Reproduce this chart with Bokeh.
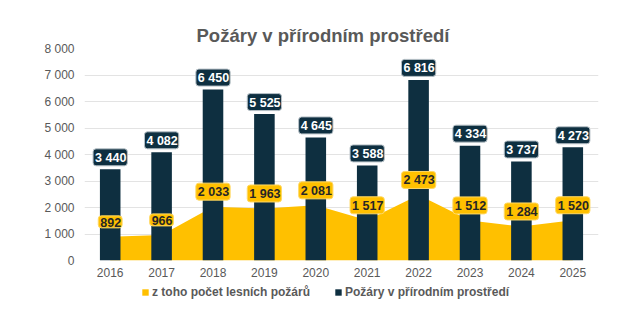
from bokeh.plotting import figure
from bokeh.layouts import column
from bokeh.models import (FactorRange, Range1d, FixedTicker, Legend, LegendItem)
from bokeh.core.properties import value
from bokeh.embed import file_html
from bokeh.resources import INLINE

years = ["2016", "2017", "2018", "2019", "2020", "2021", "2022", "2023", "2024", "2025"]
total_fires = [3440, 4082, 6450, 5525, 4645, 3588, 6816, 4334, 3737, 4273]
forest_fires = [892, 966, 2033, 1963, 2081, 1517, 2473, 1512, 1284, 1520]
y_ticks = [0, 1000, 2000, 3000, 4000, 5000, 6000, 7000, 8000]
y_tick_labels = ["0", "1 000", "2 000", "3 000", "4 000", "5 000", "6 000", "7 000", "8 000"]
title_text = "Požáry v přírodním prostředí"
legend_forest = "z toho počet lesních požárů"
legend_total = "Požáry v přírodním prostředí"

FONT = "Liberation Sans"
DARK = "#0e2f40"
YELLOW = "#ffc000"
GREY = "#595959"

def fmt(v):
    return f"{v:,}".replace(",", " ")

p = figure(width=624, height=284, output_backend="svg", toolbar_location=None,
           x_range=FactorRange(*years, range_padding=0), y_range=Range1d(0, 8000),
           min_border_left=84, min_border_right=26, min_border_top=48, min_border_bottom=24,
           title=title_text)
p.title.align = "left"
p.title.offset = 112
p.title.standoff = 6
p.title.text_font = FONT
p.title.text_font_style = "bold"
p.title.text_font_size = "18.5px"
p.title.text_color = GREY
p.outline_line_color = None
p.background_fill_color = "white"
p.border_fill_color = "white"

area = p.varea(x=years, y1=[0] * len(years), y2=forest_fires, fill_color=YELLOW)
bars = p.vbar(x=years, top=total_fires, width=0.4, fill_color=DARK, line_color=None)

p.text(x=years, y=total_fires, text=[fmt(v) for v in total_fires],
       text_font=value(FONT), text_font_style="bold", text_font_size="12.5px",
       text_color="white", text_align="center", text_baseline="middle",
       y_offset=-12, background_fill_color=DARK, border_line_color="#b8c2c8",
       border_line_width=1, padding=[2, 1, 2, 1], border_radius=3)

p.text(x=years, y=forest_fires, text=[fmt(v) for v in forest_fires],
       text_font=value(FONT), text_font_style="bold", text_font_size="12.5px",
       text_color="#262626", text_align="center", text_baseline="middle",
       y_offset=-15, background_fill_color=YELLOW, border_line_color="#ffd966",
       border_line_width=1, padding=[2, 1, 2, 1], border_radius=3)

p.yaxis.ticker = FixedTicker(ticks=y_ticks)
p.yaxis.major_label_overrides = {t: l for t, l in zip(y_ticks, y_tick_labels)}
for ax in (p.xaxis, p.yaxis):
    ax.axis_line_color = None
    ax.major_tick_line_color = None
    ax.minor_tick_line_color = None
    ax.major_label_text_font = FONT
    ax.major_label_text_font_size = "12px"
    ax.major_label_text_color = GREY
p.yaxis.major_label_standoff = 4
p.xaxis.major_label_standoff = 1
p.xgrid.grid_line_color = None
p.ygrid.grid_line_color = "#e3e3e3"
p.ygrid.grid_line_width = 1

# legend strip below the chart
lg = figure(width=624, height=36, output_backend="svg", toolbar_location=None,
            x_range=Range1d(0, 1), y_range=Range1d(0, 1),
            x_axis_location=None, y_axis_location=None,
            min_border_left=0, min_border_right=0, min_border_top=0, min_border_bottom=0)
lg.outline_line_color = None
lg.grid.grid_line_color = None
lg_area = lg.vbar(x=[0.5], top=[0], bottom=[0], width=0, fill_color=YELLOW, line_color=None)
lg_bar = lg.vbar(x=[0.5], top=[0], bottom=[0], width=0, fill_color=DARK, line_color=None)
legend = Legend(items=[LegendItem(label=legend_forest, renderers=[lg_area]),
                       LegendItem(label=legend_total, renderers=[lg_bar])],
                orientation="horizontal", location=(57, 21),
                label_text_font=FONT, label_text_font_style="bold",
                label_text_font_size="12px", label_text_color=GREY,
                glyph_width=8, glyph_height=8, label_standoff=3, spacing=24,
                padding=0, margin=0, border_line_color=None, background_fill_alpha=0)
lg.add_layout(legend)

layout = column(p, lg, spacing=0)
open("out.html", "w").write(file_html(layout, INLINE))
